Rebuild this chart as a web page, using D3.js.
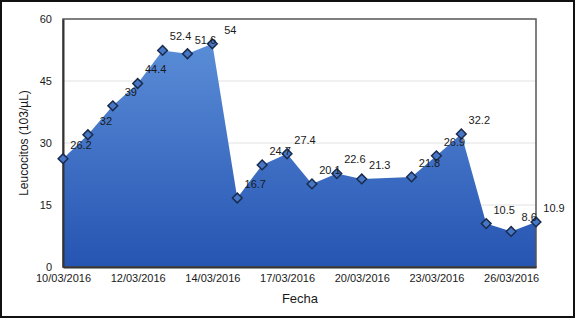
<!DOCTYPE html>
<html>
<head>
<meta charset="utf-8">
<script src="https://cdn.jsdelivr.net/npm/d3@7"></script>
<style>
  body { margin: 0; background: #fff; }
  svg text { font-family: "Liberation Sans", Arial, sans-serif; fill: #1a1a1a; }
</style>
</head>
<body>
<div id="chart"></div>
<script>
// Leucocitos por fecha (category axis, a date label every 3rd point)
var fechas = ["10/03/2016", "11/03/2016", "11/03/2016", "12/03/2016", "13/03/2016",
  "13/03/2016", "14/03/2016", "15/03/2016", "16/03/2016", "17/03/2016", "18/03/2016",
  "19/03/2016", "20/03/2016", "21/03/2016", "22/03/2016", "23/03/2016", "24/03/2016",
  "25/03/2016", "26/03/2016", "27/03/2016"];
var leucocitos = [26.2, 32, 39, 44.4, 52.4, 51.6, 54, 16.7, 24.7, 27.4, 20.1, 22.6,
  21.3, null, 21.8, 26.9, 32.2, 10.5, 8.6, 10.9];
var tickIdx = [0, 3, 6, 9, 12, 15, 18];
var yTicks = [0, 15, 30, 45, 60];

var width = 575, height = 318;
var margin = {top: 19, right: 39, bottom: 51, left: 63};
var plotW = width - margin.left - margin.right;
var plotH = height - margin.top - margin.bottom;

var svg = d3.select("#chart").append("svg")
  .attr("width", width)
  .attr("height", height);

// outer frame
svg.append("rect")
  .attr("x", 1).attr("y", 1)
  .attr("width", width - 2).attr("height", height - 2)
  .attr("fill", "none").attr("stroke", "#111").attr("stroke-width", 2);

var defs = svg.append("defs");
var grad = defs.append("linearGradient")
  .attr("id", "areaGrad")
  .attr("x1", 0).attr("y1", 0).attr("x2", 0).attr("y2", 1);
grad.append("stop").attr("offset", "0%").attr("stop-color", "#5a8dd7");
grad.append("stop").attr("offset", "100%").attr("stop-color", "#2654b2");

var plot = svg.append("g")
  .attr("transform", "translate(" + margin.left + "," + margin.top + ")");

var x = d3.scalePoint().domain(d3.range(fechas.length)).range([0, plotW]);
var y = d3.scaleLinear().domain([0, 60]).range([plotH, 0]);

// gridlines
plot.append("g")
  .selectAll("line")
  .data(yTicks.slice(1, -1)).enter()
  .append("line")
  .attr("x1", 0).attr("x2", plotW)
  .attr("y1", function(d) { return y(d); })
  .attr("y2", function(d) { return y(d); })
  .attr("stroke", "#e2e2e2").attr("stroke-width", 1);

var pts = leucocitos.map(function(v, i) { return {i: i, v: v}; })
  .filter(function(d) { return d.v !== null; });

var area = d3.area()
  .x(function(d) { return x(d.i); })
  .y0(plotH)
  .y1(function(d) { return y(d.v); });

plot.append("path")
  .datum(pts)
  .attr("d", area)
  .attr("fill", "url(#areaGrad)");

// plot frame (top / right lighter, axes darker)
plot.append("rect")
  .attr("width", plotW).attr("height", plotH)
  .attr("fill", "none").attr("stroke", "#555").attr("stroke-width", 1.5);

var xAxis = d3.axisBottom(x)
  .tickValues(tickIdx)
  .tickFormat(function(i) { return fechas[i]; })
  .tickSize(0).tickPadding(7);
var gx = plot.append("g")
  .attr("transform", "translate(0," + plotH + ")")
  .call(xAxis);
gx.select(".domain").attr("stroke", "#333").attr("stroke-width", 2);
gx.selectAll("text").style("font-size", "11px").attr("fill", "#1a1a1a");

var yAxis = d3.axisLeft(y)
  .tickValues(yTicks)
  .tickSize(0).tickPadding(11);
var gy = plot.append("g").call(yAxis);
gy.select(".domain").attr("stroke", "#333").attr("stroke-width", 2);
gy.selectAll("text").style("font-size", "11px").attr("fill", "#1a1a1a");

// markers
var diamond = d3.symbol().type(d3.symbolDiamond2).size(60);
plot.append("g")
  .selectAll("path")
  .data(pts).enter()
  .append("path")
  .attr("d", diamond)
  .attr("transform", function(d) { return "translate(" + x(d.i) + "," + y(d.v) + ")"; })
  .attr("fill", "#4677c6")
  .attr("stroke", "#1b2b4c")
  .attr("stroke-width", 1.5);

// value labels
plot.append("g")
  .selectAll("text")
  .data(pts).enter()
  .append("text")
  .attr("x", function(d) { return x(d.i) + 18; })
  .attr("y", function(d) { return y(d.v) - 13; })
  .attr("text-anchor", "middle")
  .attr("dominant-baseline", "middle")
  .style("font-size", "11px")
  .text(function(d) { return d.v; });

// axis titles
svg.append("text")
  .attr("transform", "translate(25," + 143 + ") rotate(-90)")
  .attr("text-anchor", "middle")
  .attr("dominant-baseline", "middle")
  .style("font-size", "12px")
  .text("Leucocitos (103/µL)");

svg.append("text")
  .attr("x", 300).attr("y", 300)
  .attr("text-anchor", "middle")
  .attr("dominant-baseline", "middle")
  .style("font-size", "13px")
  .text("Fecha");
</script>
</body>
</html>
